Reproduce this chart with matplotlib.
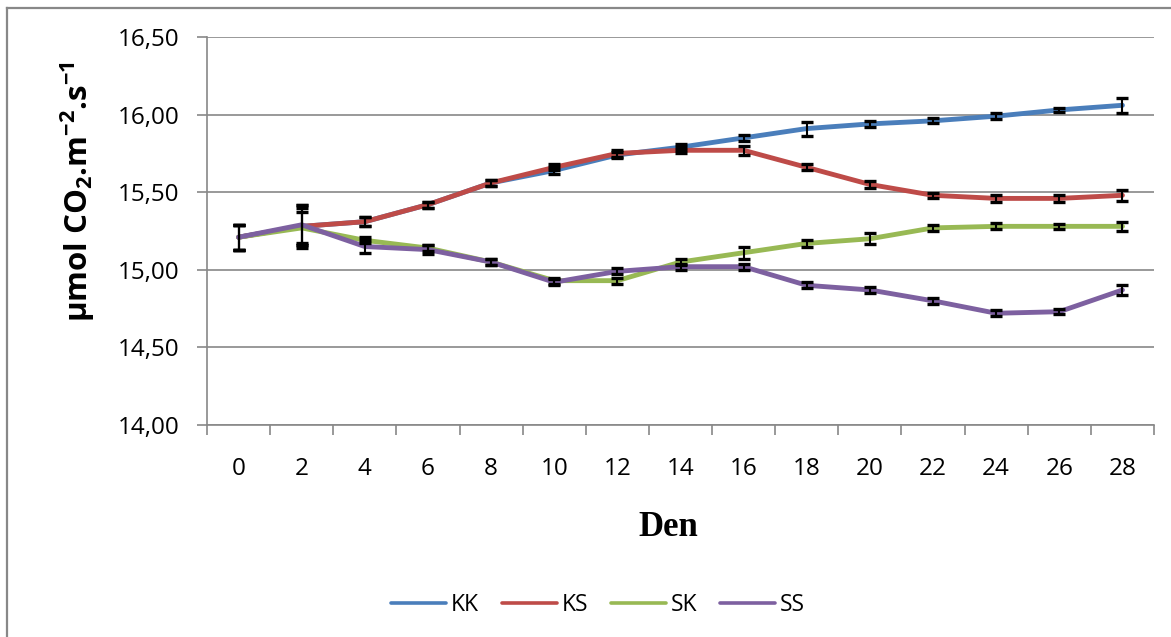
import matplotlib
matplotlib.use("Agg")
import matplotlib.pyplot as plt
from matplotlib.lines import Line2D
from matplotlib.ticker import FuncFormatter, MultipleLocator

plt.rcParams['font.family'] = ['Open Sans', 'DejaVu Sans']
plt.rcParams['mathtext.fontset'] = 'custom'
plt.rcParams['mathtext.rm'] = 'Open Sans:bold'
plt.rcParams['mathtext.bf'] = 'Open Sans:bold'
plt.rcParams['mathtext.it'] = 'Open Sans:bold'

days = [0, 2, 4, 6, 8, 10, 12, 14, 16, 18, 20, 22, 24, 26, 28]

kk = [15.21, 15.28, 15.31, 15.42, 15.56, 15.64, 15.74, 15.79, 15.85, 15.91, 15.94, 15.96, 15.99, 16.03, 16.06]
ks = [15.21, 15.28, 15.31, 15.42, 15.56, 15.66, 15.75, 15.77, 15.77, 15.66, 15.55, 15.48, 15.46, 15.46, 15.48]
sk = [15.21, 15.27, 15.19, 15.14, 15.05, 14.93, 14.93, 15.05, 15.11, 15.17, 15.20, 15.27, 15.28, 15.28, 15.28]
ss = [15.21, 15.29, 15.15, 15.13, 15.05, 14.92, 14.99, 15.02, 15.02, 14.90, 14.87, 14.80, 14.72, 14.73, 14.87]

kk_err = [0.08, 0.12, 0.03, 0.02, 0.02, 0.02, 0.02, 0.02, 0.02, 0.045, 0.02, 0.015, 0.02, 0.015, 0.05]
ks_err = [0.08, 0.14, 0.03, 0.02, 0.02, 0.02, 0.02, 0.02, 0.03, 0.02, 0.02, 0.015, 0.02, 0.02, 0.035]
sk_err = [0.08, 0.10, 0.02, 0.02, 0.02, 0.02, 0.02, 0.02, 0.04, 0.02, 0.035, 0.02, 0.02, 0.015, 0.03]
ss_err = [0.08, 0.13, 0.04, 0.03, 0.02, 0.02, 0.02, 0.02, 0.02, 0.02, 0.02, 0.02, 0.02, 0.015, 0.03]

series = [
    ('KK', kk, kk_err, '#4A7EBB'),
    ('KS', ks, ks_err, '#BE4B48'),
    ('SK', sk, sk_err, '#98B954'),
    ('SS', ss, ss_err, '#7D60A0'),
]

W, H = 1171, 637
fig = plt.figure(figsize=(W / 100, H / 100), dpi=100)
ax = fig.add_axes([207 / W, 1 - 425 / H, (1154 - 207) / W, (425 - 37) / H])

for name, vals, err, col in series:
    ax.plot(days, vals, color=col, lw=3.5, label=name, zorder=3,
            solid_capstyle='round', solid_joinstyle='round')
for name, vals, err, col in series:
    ax.errorbar(days, vals, yerr=err, fmt='none', ecolor='black',
                elinewidth=1.5, capsize=4.2, capthick=2.4, zorder=4)

ax.set_xlim(-1, 29)
ax.set_ylim(14.0, 16.5)
ax.set_xticks(days)
ax.xaxis.set_minor_locator(MultipleLocator(2, offset=1))
ax.tick_params(axis='x', which='major', length=0, pad=23, labelsize=17.5)
ax.tick_params(axis='x', which='minor', length=7, color='#888888', width=1.2)
ax.yaxis.set_major_locator(MultipleLocator(0.5))
ax.yaxis.set_major_formatter(FuncFormatter(lambda v, p: f"{v:.2f}".replace('.', ',')))
ax.tick_params(axis='y', length=7, color='#888888', width=1.2, labelsize=17.5, pad=13)

ax.grid(axis='y', color='#888888', lw=1.2)
ax.set_axisbelow(True)
for side in ['top', 'right']:
    ax.spines[side].set_visible(False)
for side in ['left', 'bottom']:
    ax.spines[side].set_color('#888888')
    ax.spines[side].set_linewidth(1.2)

fig.text(78 / W, 1 - 192 / H, r'µmol CO$_2$.m$^{-2}$.s$^{-1}$', rotation=90,
         ha='center', va='center', fontsize=22.5, fontweight='bold')
fig.text(668 / W, 1 - 527 / H, 'Den', ha='center', va='center', fontsize=25,
         fontweight='bold', family='Liberation Serif')

leg = fig.legend(loc='center', bbox_to_anchor=(598 / W, 1 - 605 / H), ncol=4, frameon=False,
                 fontsize=16.5, handlelength=2.4, handletextpad=0.2, columnspacing=1.0)
for h in leg.get_lines():
    h.set_linewidth(2.6)

# outer chart border (only left and top visible in the crop)
fig.add_artist(Line2D([7 / W, 7 / W], [0, 1 - 8 / H], color='#888888', lw=1.6,
                      transform=fig.transFigure))
fig.add_artist(Line2D([7 / W, 1], [1 - 8 / H, 1 - 8 / H], color='#888888', lw=1.6,
                      transform=fig.transFigure))

fig.savefig('out.png', dpi=100)
